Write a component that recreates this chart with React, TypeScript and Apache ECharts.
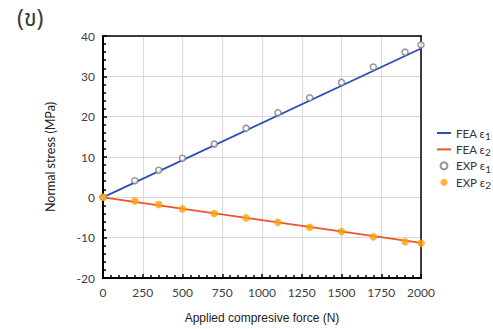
import React, { useEffect, useRef } from "react";
import * as echarts from "echarts";

const forceN = [0, 200, 350, 500, 700, 900, 1100, 1300, 1500, 1700, 1900, 2000];
const expE1 = [0, 4.1, 6.7, 9.7, 13.2, 17.1, 21.0, 24.7, 28.5, 32.3, 36.0, 37.8];
const expE2 = [0, -0.9, -1.8, -2.9, -4.0, -5.1, -6.2, -7.4, -8.5, -9.8, -11.0, -11.4];
const feaForce = [0, 2000];
const feaE1 = [0, 36.9];
const feaE2 = [0, -11.3];
const xTicks = { min: 0, max: 2000, interval: 250 };
const yTicks = { min: -20, max: 40, interval: 10 };

const pairs = (xs: number[], ys: number[]) => xs.map((x, i) => [x, ys[i]]);

const legendRich: Record<string, string> = {
  "FEA ε1": "{a|FEA ε}{s|1}",
  "FEA ε2": "{a|FEA ε}{s|2}",
  "EXP ε1": "{a|EXP ε}{s|1}",
  "EXP ε2": "{a|EXP ε}{s|2}",
};

const lineIcon = "path://M0,0L14,0L14,2L0,2Z";

export default function App() {
  const ref = useRef<HTMLDivElement>(null);
  useEffect(() => {
    if (!ref.current) return;
    const chart = echarts.init(ref.current, undefined, { renderer: "svg" });
    const font = "Lato, 'Open Sans', sans-serif";
    chart.setOption({
      animation: false,
      backgroundColor: "#ffffff",
      title: {
        text: "(ข)",
        left: 12,
        top: 2,
        textStyle: {
          fontFamily: "'Noto Sans Thai', 'Noto Sans', sans-serif",
          fontSize: 23,
          fontWeight: "normal",
          color: "#3a3a3a",
        },
      },
      grid: { left: 103, right: 72, top: 36, bottom: 51, containLabel: false },
      legend: {
        orient: "vertical",
        left: 432,
        top: 122,
        itemWidth: 14,
        itemHeight: 7,
        itemGap: 2.4,
        symbolKeepAspect: true,
        data: [
          { name: "FEA ε1", icon: lineIcon },
          { name: "FEA ε2", icon: lineIcon },
          { name: "EXP ε1" },
          { name: "EXP ε2" },
        ],
        formatter: (n: string) => legendRich[n] || n,
        textStyle: {
          fontFamily: font,
          color: "#333333",
          rich: {
            a: { fontFamily: font, fontSize: 11.5, color: "#333333" },
            s: { fontFamily: font, fontSize: 10, color: "#333333", padding: [6, 0, 0, 0] },
          },
        },
      },
      xAxis: [
        {
          type: "value",
          ...xTicks,
          name: "Applied compresive force (N)",
          nameLocation: "middle",
          nameGap: 34,
          nameTextStyle: { fontFamily: "'Liberation Sans', Arial, sans-serif", fontSize: 12, color: "#222222" },
          axisLine: { show: true, onZero: false, lineStyle: { color: "#000000", width: 2 } },
          axisTick: { show: true, inside: true, length: 4, lineStyle: { color: "#000000", width: 1.5 } },
          minorTick: { show: true, splitNumber: 5, length: 3, lineStyle: { color: "#000000", width: 1.5 } },
          axisLabel: { fontFamily: font, fontSize: 12, color: "#404040", margin: 8, formatter: (v: number) => String(v) },
          splitLine: { show: true, lineStyle: { color: "#d9d9d9", width: 1 } },
        },
        {
          type: "value",
          position: "top",
          ...xTicks,
          axisLine: { show: true, onZero: false, lineStyle: { color: "#000000", width: 1.5 } },
          axisTick: { show: false },
          axisLabel: { show: false },
          splitLine: { show: false },
        },
      ],
      yAxis: [
        {
          type: "value",
          ...yTicks,
          name: "Normal stress (MPa)",
          nameLocation: "middle",
          nameGap: 46,
          nameTextStyle: { fontFamily: font, fontSize: 12.5, color: "#222222" },
          axisLine: { show: true, onZero: false, lineStyle: { color: "#000000", width: 2 } },
          axisTick: { show: true, inside: true, length: 4, lineStyle: { color: "#000000", width: 1.5 } },
          minorTick: { show: true, splitNumber: 5, length: 3, lineStyle: { color: "#000000", width: 1.5 } },
          axisLabel: { fontFamily: font, fontSize: 12, color: "#404040", margin: 8, formatter: (v: number) => String(v) },
          splitLine: { show: true, lineStyle: { color: "#d9d9d9", width: 1 } },
        },
        {
          type: "value",
          position: "right",
          ...yTicks,
          axisLine: { show: true, onZero: false, lineStyle: { color: "#000000", width: 1.5 } },
          axisTick: { show: false },
          axisLabel: { show: false },
          splitLine: { show: false },
        },
      ],
      series: [
        {
          name: "FEA ε1",
          type: "line",
          data: pairs(feaForce, feaE1),
          symbol: "none",
          lineStyle: { color: "#2b4fb8", width: 1.8 },
          itemStyle: { color: "#2b4fb8" },
          z: 2,
        },
        {
          name: "FEA ε2",
          type: "line",
          data: pairs(feaForce, feaE2),
          symbol: "none",
          lineStyle: { color: "#e8552b", width: 1.8 },
          itemStyle: { color: "#e8552b" },
          z: 2,
        },
        {
          name: "EXP ε1",
          type: "scatter",
          data: pairs(forceN, expE1),
          symbol: "circle",
          symbolSize: 6,
          itemStyle: { color: "#ffffff", borderColor: "#7a7a7a", borderWidth: 1.5 },
          z: 3,
        },
        {
          name: "EXP ε2",
          type: "scatter",
          data: pairs(forceN, expE2),
          symbol: "circle",
          symbolSize: 7.5,
          itemStyle: { color: "#ffa00a" },
          z: 4,
        },
      ],
    });
    return () => chart.dispose();
  }, []);
  return (
    <div
      ref={ref}
      style={{ position: "fixed", left: 0, top: 0, width: 493, height: 329 }}
    />
  );
}
